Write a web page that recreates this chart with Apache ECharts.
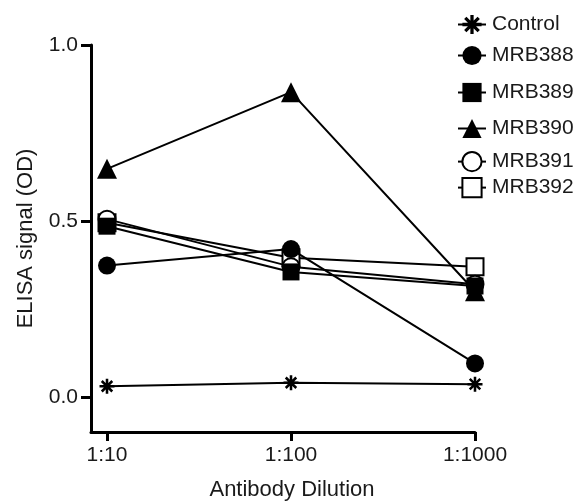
<!DOCTYPE html>
<html>
<head>
<meta charset="utf-8">
<script src="https://cdn.jsdelivr.net/npm/echarts@6/dist/echarts.min.js"></script>
<style>
  html, body { margin: 0; padding: 0; background: #fff; }
  #chart { width: 573px; height: 501px; }
</style>
</head>
<body>
<div id="chart"></div>
<script>
// dilutions on the x axis (log spaced, drawn at positions 0, 1, 2)
var dilutions = ['1:10', '1:100', '1:1000'];
var yTicks = [0, 0.5, 1.0];

// ELISA OD values
var control = [0.03, 0.04, 0.036];
var mrb388 = [0.373, 0.42, 0.095];
var mrb389 = [0.485, 0.355, 0.315];
var mrb390 = [0.648, 0.866, 0.30];
var mrb391 = [0.505, 0.37, 0.32];
var mrb392 = [0.495, 0.395, 0.37];

// legend rows sit at slightly uneven heights in the original
var legendRows = [26, 57, 94, 130, 163, 189];

var asterisk = 'path://M8.3 0 L11.7 0 L11.7 20 L8.3 20 Z ' +
  'M0 8.3 L20 8.3 L20 11.7 L0 11.7 Z ' +
  'M4.2 1.8 L18.2 15.8 L15.8 18.2 L1.8 4.2 Z ' +
  'M15.8 1.8 L18.2 4.2 L4.2 18.2 L1.8 15.8 Z';

var textColor = '#1a1a1a';
var font = 'Liberation Sans';

function toPoints(values) {
  return values.map(function (v, i) { return [i, v]; });
}

function makeSeries(name, values, symbol, size, filled, z) {
  return {
    name: name,
    type: 'line',
    data: toPoints(values),
    symbol: symbol,
    symbolSize: size,
    z: z,
    lineStyle: { color: '#000', width: 2 },
    itemStyle: filled
      ? { color: '#000', borderColor: '#000', borderWidth: 0 }
      : { color: '#fff', borderColor: '#000', borderWidth: 2 },
    emphasis: { disabled: true },
    animation: false
  };
}

var seriesList = [
  makeSeries('Control', control, asterisk, 15, true, 10),
  makeSeries('MRB388', mrb388, 'circle', 18, true, 9),
  makeSeries('MRB389', mrb389, 'rect', 17, true, 8),
  makeSeries('MRB390', mrb390, 'triangle', 20, true, 7),
  makeSeries('MRB391', mrb391, 'circle', 17, false, 6),
  makeSeries('MRB392', mrb392, 'rect', 17, false, 5)
];

var legends = seriesList.map(function (s, i) {
  return {
    data: [s.name],
    left: 457,
    top: legendRows[i] - 12,
    itemWidth: 28,
    itemHeight: 24,
    itemGap: 0,
    padding: 0,
    selectedMode: false,
    textStyle: { color: textColor, fontSize: 21, fontFamily: font, padding: [0, 0, 0, 1] }
  };
});

var chart = echarts.init(document.getElementById('chart'));
chart.setOption({
  backgroundColor: '#fff',
  animation: false,
  grid: { left: 91, right: 98, top: 45, bottom: 69, containLabel: false, outerBoundsMode: 'none' },
  legend: legends,
  xAxis: {
    type: 'value',
    min: -0.087,
    max: 2,
    name: 'Antibody Dilution',
    nameLocation: 'middle',
    nameGap: 47,
    nameTextStyle: { color: textColor, fontSize: 22, fontFamily: font, padding: [0, 0, 0, 18] },
    axisLine: { show: true, onZero: false, lineStyle: { color: '#000', width: 3 } },
    axisTick: { show: true, length: 9, lineStyle: { color: '#000', width: 3 }, customValues: [0, 1, 2] },
    axisLabel: {
      color: textColor, fontSize: 21, fontFamily: font, margin: 13,
      customValues: [0, 1, 2],
      formatter: function (v) { return dilutions[Math.round(v)]; }
    },
    splitLine: { show: false }
  },
  yAxis: {
    type: 'value',
    min: -0.1,
    max: 1.0,
    name: 'ELISA signal (OD)',
    nameLocation: 'middle',
    nameGap: 54,
    nameRotate: 90,
    nameTextStyle: { color: textColor, fontSize: 22, fontFamily: font },
    axisLine: { show: true, onZero: false, lineStyle: { color: '#000', width: 3 } },
    axisTick: { show: true, length: 10, lineStyle: { color: '#000', width: 3 }, customValues: yTicks },
    axisLabel: {
      color: textColor, fontSize: 21, fontFamily: font, margin: 13,
      customValues: yTicks,
      formatter: function (v) { return v.toFixed(1); }
    },
    splitLine: { show: false }
  },
  series: seriesList
});
</script>
</body>
</html>
